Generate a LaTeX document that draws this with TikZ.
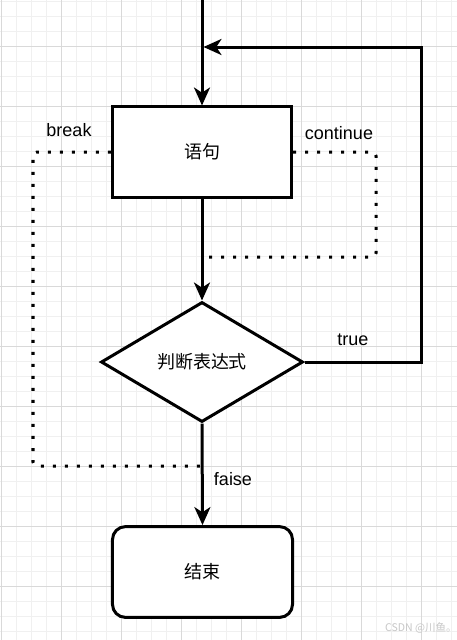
\documentclass[tikz,border=0pt]{standalone}
\usepackage{fontspec}
\setmainfont{Liberation Sans}
\newfontfamily\cjkfont{Noto Sans CJK SC}
\usepackage{xcolor}
\usetikzlibrary{arrows.meta,positioning,shapes.geometric}

\begin{document}
\begin{tikzpicture}[x=0.025cm, y=-0.025cm,
    minorgrid/.style={line width=0.25mm, black!6},
    majorgrid/.style={line width=0.25mm, black!15},
    flowline/.style={line width=0.75mm, -{Stealth[length=4.5mm, width=4mm, inset=1.3mm]}},
    loopline/.style={line width=0.75mm},
    jumpline/.style={line width=0.75mm, dash pattern=on 0.75mm off 2.25mm, rounded corners=1mm},
    stmtbox/.style={draw, line width=0.75mm, fill=white, minimum width=4.475cm, minimum height=2.25cm, font=\cjkfont\fontsize{12.8}{15}\selectfont},
    endbox/.style={stmtbox, rounded corners=3.25mm, minimum width=4.5cm, minimum height=2.27cm},
    testdiamond/.style={draw, diamond, line width=0.75mm, fill=white, inner sep=0pt, minimum width=5.05cm, minimum height=3cm, font=\cjkfont\fontsize{12.8}{15}\selectfont},
    lbl/.style={font=\fontsize{12.8}{15}\selectfont}]
    \useasboundingbox (0,0) rectangle (457,640);
    \clip (0,0) rectangle (457,640);

    % Grid background
    \fill[white] (0,0) rectangle (457,640);
    \foreach \g in {0,...,30} \draw[minorgrid] ({1.7+15*\g},0) -- ++(0,640);
    \foreach \g in {0,...,42} \draw[minorgrid] (0,{1.7+15*\g}) -- ++(457,0);
    \foreach \g in {0,...,7} \draw[majorgrid] ({1.7+60*\g},0) -- ++(0,640);
    \foreach \g in {-1,...,10} \draw[majorgrid] (0,{46.7+60*\g}) -- ++(457,0);

    % Shapes
    \node[stmtbox] (stmt) at (202,152) {语句};
    \node[testdiamond] (test) at (202,362) {判断表达式};
    \node[endbox] (finish) at (202.5,572) {结束};

    % Corner points
    \coordinate (entry) at (202,0);
    \coordinate (loopR) at (421,362);
    \coordinate (loopT) at (421,47);
    \coordinate (loopIn) at (203.5,47);
    \coordinate (brkA) at (33,152);
    \coordinate (brkB) at (33,466);
    \coordinate (brkC) at (202,466);
    \coordinate (contA) at (376,152);
    \coordinate (contB) at (376,257);
    \coordinate (contC) at (202,257);

    % Main flow
    \draw[flowline] (entry) -- (stmt.north);
    \draw[flowline] (stmt.south) -- (test.north);
    \draw[flowline] (test.south) -- (finish.north);
    \draw[flowline] (test.east) -- (loopR) -- (loopT) -- (loopIn);

    % break / continue jumps
    \draw[jumpline] (stmt.west) -- (brkA) -- (brkB) -- (brkC);
    \draw[jumpline] (stmt.east) -- (contA) -- (contB) -- (contC);

    % Labels
    \node[lbl] (brkLbl) at (69,130) {break};
    \node[lbl] (contLbl) at (339,133) {continue};
    \node[lbl] (trueLbl) at (353,340) {true};
    \node[lbl] (falseLbl) at (233,479) {faise};
    \node[font=\cjkfont\fontsize{7.5}{9}\selectfont, text=black!22] (mark) at (421,628) {CSDN @川鱼。};
\end{tikzpicture}
\end{document}
